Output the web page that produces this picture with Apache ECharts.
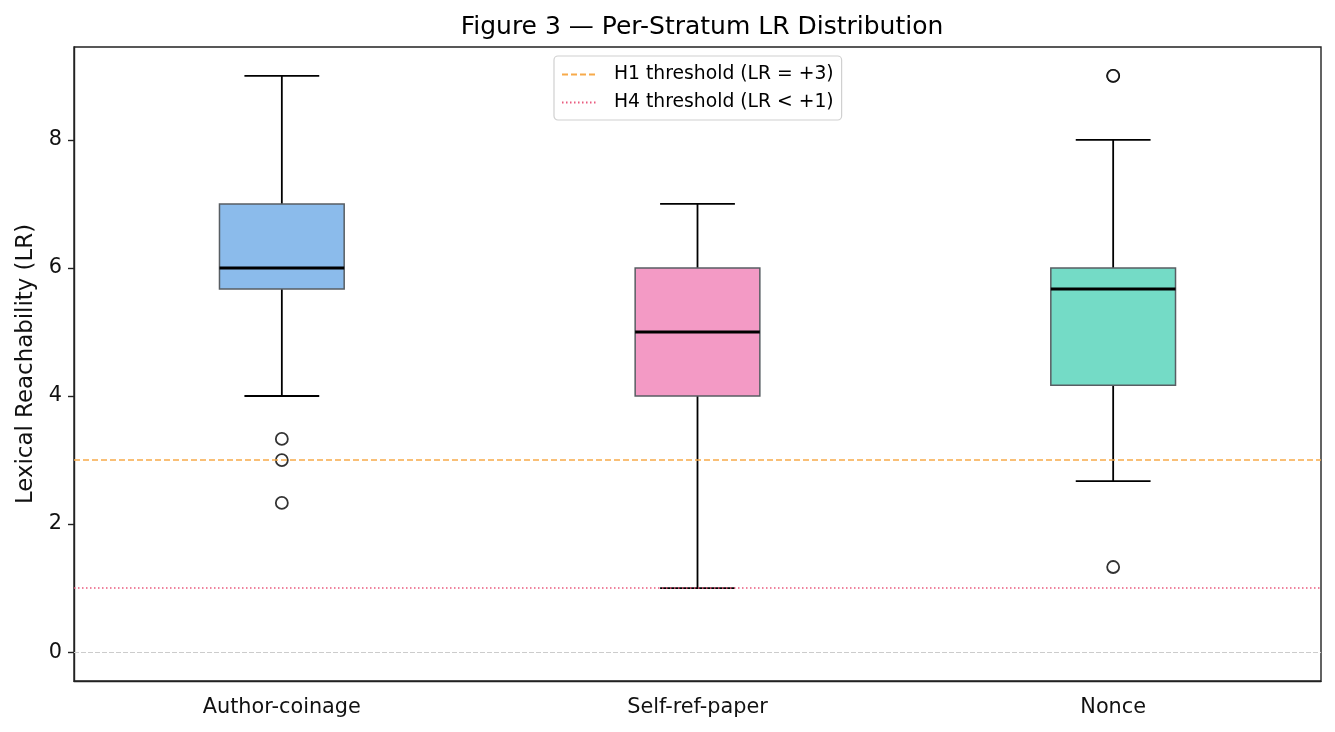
<!DOCTYPE html>
<html>
<head>
<meta charset="utf-8">
<script src="https://cdn.jsdelivr.net/npm/echarts@6/dist/echarts.min.js"></script>
<style>
html, body { margin: 0; padding: 0; background: #fff; }
#main { width: 1335px; height: 732px; }
</style>
</head>
<body>
<div id="main"></div>
<script>
// strata and their box statistics
var categories = ['Author-coinage', 'Self-ref-paper', 'Nonce'];
var whiskerLow = [4, 1, 2.67];
var q1 = [5.67, 4, 4.17];
var medians = [6, 5, 5.67];
var q3 = [7, 6, 6];
var whiskerHigh = [9, 7, 8];
// [category index, LR]
var outliers = [[0, 3.33], [0, 3], [0, 2.33], [2, 9], [2, 9], [2, 1.33]];
var yTicks = [0, 2, 4, 6, 8];
var h1Threshold = 3;
var h4Threshold = 1;

var boxColors = ['#8bbbeb', '#f39ac5', '#74dbc6'];
var font = 'DejaVu Sans';

var boxData = categories.map(function (c, i) {
    return [i, whiskerLow[i], q1[i], medians[i], q3[i], whiskerHigh[i]];
});

function renderBox(params, api) {
    var i = api.value(0);
    var band = api.size([1, 0])[0];
    var half = band * 0.15;
    var capHalf = half * 0.6;
    var pLow = api.coord([i, api.value(1)]);
    var pQ1 = api.coord([i, api.value(2)]);
    var pMed = api.coord([i, api.value(3)]);
    var pQ3 = api.coord([i, api.value(4)]);
    var pHigh = api.coord([i, api.value(5)]);
    var x = pMed[0];
    var black = { stroke: '#000', lineWidth: 1.8 };
    return {
        type: 'group',
        children: [
            { type: 'line', shape: { x1: x, y1: pQ3[1], x2: x, y2: pHigh[1] }, style: black },
            { type: 'line', shape: { x1: x, y1: pQ1[1], x2: x, y2: pLow[1] }, style: black },
            { type: 'line', shape: { x1: x - capHalf, y1: pHigh[1], x2: x + capHalf, y2: pHigh[1] }, style: black },
            { type: 'line', shape: { x1: x - capHalf, y1: pLow[1], x2: x + capHalf, y2: pLow[1] }, style: black },
            { type: 'rect', shape: { x: x - half, y: pQ3[1], width: half * 2, height: pQ1[1] - pQ3[1] },
              style: { fill: boxColors[i], stroke: '#585e63', lineWidth: 1.5 } },
            { type: 'line', shape: { x1: x - half, y1: pMed[1], x2: x + half, y2: pMed[1] },
              style: { stroke: '#000', lineWidth: 3 } }
        ]
    };
}

var dom = document.getElementById('main');
var myChart = echarts.init(dom);
var option = {
    animation: false,
    backgroundColor: '#fff',
    textStyle: { fontFamily: font },
    title: {
        text: 'Figure 3 \u2014 Per-Stratum LR Distribution',
        left: 697,
        textAlign: 'center',
        top: 10,
        textStyle: { fontFamily: font, fontSize: 25, fontWeight: 'normal', color: '#000' }
    },
    legend: {
        data: ['H1 threshold (LR = +3)', 'H4 threshold (LR < +1)'],
        orient: 'vertical',
        left: 554,
        top: 56,
        padding: [9, 8, 8, 7],
        itemGap: 9,
        itemWidth: 36,
        itemHeight: 12,
        itemStyle: { opacity: 0 },
        backgroundColor: '#fff',
        borderColor: '#d0d0d0',
        borderWidth: 1.2,
        borderRadius: 4,
        textStyle: { fontFamily: font, fontSize: 18.75, color: '#000', padding: [0, 0, 0, 11] }
    },
    grid: {
        left: 74, right: 14, top: 47, bottom: 51,
        show: true, borderColor: '#222', borderWidth: 1.4
    },
    xAxis: {
        type: 'category',
        data: categories,
        boundaryGap: true,
        axisLine: { onZero: false, lineStyle: { color: '#222', width: 1.4 } },
        axisTick: { alignWithLabel: true, length: 6, lineStyle: { color: '#222', width: 1.4 } },
        axisLabel: { fontSize: 20.8, color: '#111', margin: 16, fontFamily: font },
        splitLine: { show: false }
    },
    yAxis: {
        type: 'value',
        min: -0.45,
        max: 9.45,
        name: 'Lexical Reachability (LR)',
        nameLocation: 'middle',
        nameRotate: 90,
        nameGap: 36,
        nameTextStyle: { fontFamily: font, fontSize: 22.9, color: '#111' },
        axisLine: { show: true, lineStyle: { color: '#222', width: 1.4 } },
        axisTick: { show: true, length: 6, customValues: yTicks, lineStyle: { color: '#222', width: 1.4 } },
        axisLabel: { fontSize: 20.8, color: '#111', margin: 12, customValues: yTicks, fontFamily: font },
        splitLine: { show: false }
    },
    series: [
        {
            name: 'zero',
            type: 'line',
            data: [],
            silent: true,
            color: '#cccccc',
            markLine: {
                silent: true, symbol: 'none', label: { show: false },
                lineStyle: { color: '#cccccc', type: [5, 2], width: 1 },
                data: [{ yAxis: 0 }]
            }
        },
        {
            name: 'H1 threshold (LR = +3)',
            type: 'line',
            data: [],
            symbol: 'none',
            color: '#f7aa4a',
            lineStyle: { color: '#f7aa4a', type: [6, 3], width: 1.5 },
            markLine: {
                silent: true, symbol: 'none', label: { show: false },
                lineStyle: { color: '#f7aa4a', type: [6, 3], width: 1.5 },
                data: [{ yAxis: h1Threshold }]
            }
        },
        {
            name: 'H4 threshold (LR < +1)',
            type: 'line',
            data: [],
            symbol: 'none',
            color: '#ea5a7e',
            lineStyle: { color: '#ea5a7e', type: [1.5, 2.5], width: 1.5 },
            markLine: {
                silent: true, symbol: 'none', label: { show: false },
                lineStyle: { color: '#ea5a7e', type: [1.5, 2.5], width: 1.5 },
                data: [{ yAxis: h4Threshold }]
            }
        },
        {
            name: 'boxes',
            type: 'custom',
            renderItem: renderBox,
            data: boxData,
            encode: { x: 0, y: [1, 2, 3, 4, 5] },
            z: 3
        },
        {
            name: 'outliers',
            type: 'scatter',
            data: outliers,
            symbol: 'circle',
            symbolSize: 12,
            itemStyle: { color: '#fff', borderColor: '#000', borderWidth: 1.8 },
            z: 4
        }
    ]
};
if (option && typeof option === "object") {
    myChart.setOption(option, true);
}
</script>
</body>
</html>
